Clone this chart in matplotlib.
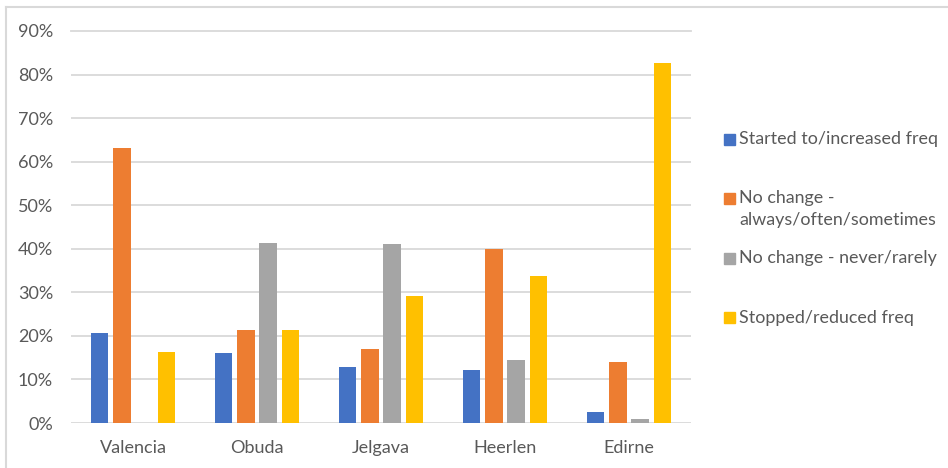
import numpy as np
import matplotlib.pyplot as plt
from matplotlib.lines import Line2D
from matplotlib.patches import Rectangle
from matplotlib.ticker import PercentFormatter

# Share of respondents per city and change in behaviour
cities = ['Valencia', 'Obuda', 'Jelgava', 'Heerlen', 'Edirne']
series = ['Started to/increased freq',
          'No change -\nalways/often/sometimes',
          'No change - never/rarely',
          'Stopped/reduced freq']
started = [0.206, 0.161, 0.128, 0.121, 0.026]
always = [0.632, 0.213, 0.171, 0.399, 0.140]
never = [0.0, 0.413, 0.411, 0.145, 0.009]
stopped = [0.163, 0.213, 0.292, 0.337, 0.826]
colors = ['#4472C4', '#ED7D31', '#A5A5A5', '#FFC000']
yticks = np.arange(0, 1.0, 0.1)

plt.rcParams['font.family'] = ['Lato', 'DejaVu Sans']
txt = '#595959'
grid = '#D9D9D9'

fig = plt.figure(figsize=(9.48, 4.68), dpi=100)
ax = fig.add_axes([71 / 948, 1 - 423 / 468, 620 / 948, 392 / 468])

x = np.arange(len(cities))
step = 0.181
width = 0.141
for i, vals in enumerate([started, always, never, stopped]):
    ax.bar(x + (i - 1.5) * step, vals, width, color=colors[i], zorder=3)

ax.set_xlim(-0.5, len(cities) - 0.5)
ax.set_ylim(0, 0.9)
ax.set_yticks(yticks)
ax.yaxis.set_major_formatter(PercentFormatter(1.0, decimals=0))
ax.set_xticks(x)
ax.set_xticklabels(cities)
ax.tick_params(axis='both', length=0, colors=txt, labelsize=13)
ax.tick_params(axis='y', pad=13)
ax.tick_params(axis='x', pad=12)
ax.grid(axis='y', color=grid, linewidth=1.3, zorder=0)
ax.yaxis.get_gridlines()[-1].set_clip_on(False)
for s in ax.spines.values():
    s.set_visible(False)

# legend drawn by hand so the marker sits beside the first line of each entry
for i, name in enumerate(series):
    yc = 1 - (139 + i * 59.5) / 468
    fig.patches.append(Rectangle((724 / 948, yc - 5.5 / 468), 11 / 948, 11 / 468,
                                 transform=fig.transFigure, color=colors[i]))
    fig.text(739 / 948, yc + 8 / 468, name, color=txt, fontsize=12.9,
             va='top', ha='left', linespacing=1.45)

# chart area frame
fig.add_artist(Line2D([6 / 948, 6 / 948], [0, 1 - 7 / 468], color=grid, lw=1.5))
fig.add_artist(Line2D([6 / 948, 1], [1 - 7 / 468, 1 - 7 / 468], color=grid, lw=1.5))

fig.savefig('out.png', dpi=100)
